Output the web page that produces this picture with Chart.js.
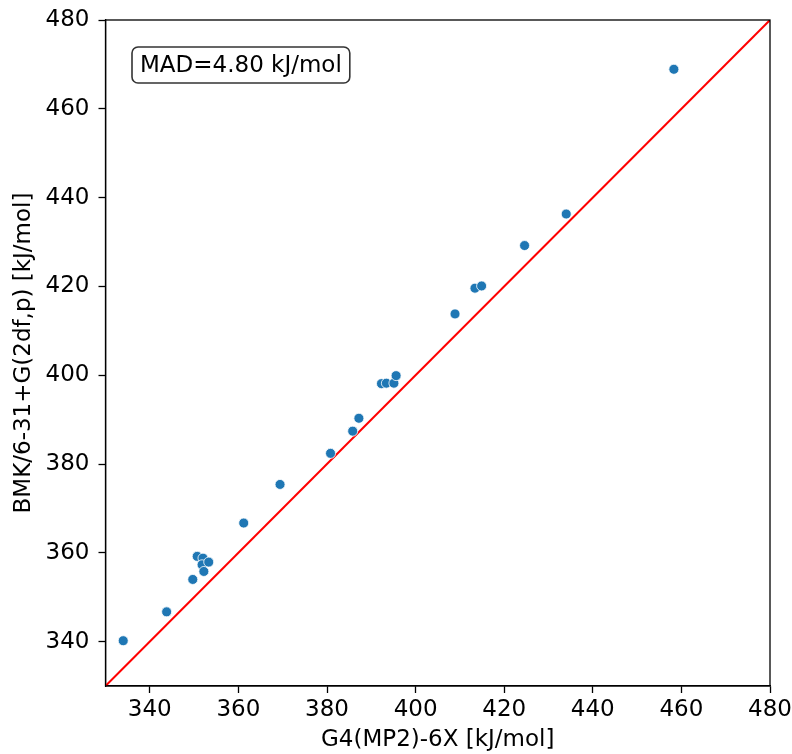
<!DOCTYPE html>
<html>
<head>
<meta charset="utf-8">
<script src="https://cdn.jsdelivr.net/npm/chart.js@4.4.0/dist/chart.umd.min.js"></script>
<style>
  html, body { margin: 0; padding: 0; background: #fff; }
  #wrap { width: 792px; height: 754px; }
</style>
</head>
<body>
<div id="wrap"><canvas id="parityChart" width="792" height="754"></canvas></div>
<script>
// G4(MP2)-6X reference values vs BMK/6-31+G(2df,p) values, kJ/mol
const refValues = [334.0, 343.8, 349.7, 350.7, 352.0, 351.8, 353.3, 352.2, 361.2, 369.4,
                   380.8, 385.8, 387.2, 392.3, 393.4, 395.1, 395.6, 408.9, 413.4, 414.9,
                   424.6, 434.0, 458.3];
const calcValues = [340.2, 346.7, 354.0, 359.2, 358.8, 357.3, 357.9, 355.8, 366.7, 375.4,
                    382.4, 387.4, 390.3, 398.1, 398.2, 398.2, 399.9, 413.8, 419.6, 420.1,
                    429.2, 436.3, 468.9];
const axisRange = [330, 480];
const tickValues = [340, 360, 380, 400, 420, 440, 460, 480];
const madLabel = 'MAD=4.80 kJ/mol';

const FONT = 'DejaVu Sans';
const FS = 23;
const points = refValues.map((x, i) => ({ x: x, y: calcValues[i] }));
const diagonal = axisRange.map(v => ({ x: v, y: v }));

const setTicks = scale => { scale.ticks = tickValues.map(v => ({ value: v })); };

const framePlugin = {
    id: 'frame',
    afterDraw(chart) {
        const { ctx, chartArea: a } = chart;
        ctx.save();
        ctx.strokeStyle = '#000';
        ctx.lineWidth = 1.3;
        ctx.strokeRect(a.left, a.top, a.right - a.left, a.bottom - a.top);

        // MAD text box
        ctx.font = FS + 'px "' + FONT + '"';
        const w = ctx.measureText(madLabel).width;
        const bx = 132, by = 47, bw = w + 16, bh = 36, r = 6;
        ctx.beginPath();
        ctx.roundRect(bx, by, bw, bh, r);
        ctx.fillStyle = '#fff';
        ctx.fill();
        ctx.lineWidth = 1.6;
        ctx.strokeStyle = '#333';
        ctx.stroke();
        ctx.fillStyle = '#000';
        ctx.textBaseline = 'middle';
        ctx.fillText(madLabel, bx + 8, by + bh / 2 + 1);
        ctx.restore();
    }
};

const ctx = document.getElementById('parityChart').getContext('2d');
new Chart(ctx, {
    type: 'scatter',
    data: {
        datasets: [{
            label: 'y = x',
            data: diagonal,
            showLine: true,
            borderColor: '#ff0000',
            borderWidth: 2,
            pointRadius: 0,
            order: 2
        }, {
            label: 'points',
            data: points,
            backgroundColor: '#1f77b4',
            borderColor: '#ffffff',
            borderWidth: 0.8,
            pointRadius: 5,
            order: 1
        }]
    },
    plugins: [framePlugin],
    options: {
        responsive: false,
        animation: false,
        layout: { padding: { left: 0, top: 20, right: 22, bottom: 0 } },
        plugins: {
            legend: { display: false },
            tooltip: { enabled: false }
        },
        scales: {
            x: {
                type: 'linear',
                min: axisRange[0],
                max: axisRange[1],
                afterBuildTicks: setTicks,
                afterFit: s => { s.height = 68; s.paddingLeft = 0; s.paddingRight = 0; },
                grid: { drawOnChartArea: false, color: '#000', tickLength: 7, tickWidth: 1.3 },
                border: { color: '#000', width: 1.3 },
                ticks: { color: '#000', font: { family: FONT, size: FS }, padding: 3, maxRotation: 0 },
                title: {
                    display: true,
                    text: 'G4(MP2)-6X [kJ/mol]',
                    color: '#000',
                    font: { family: FONT, size: FS },
                    padding: { top: 0, bottom: 0 }
                }
            },
            y: {
                type: 'linear',
                min: axisRange[0],
                max: axisRange[1],
                afterBuildTicks: setTicks,
                afterFit: s => { s.width = 105.5; s.paddingTop = 0; s.paddingBottom = 0; },
                grid: { drawOnChartArea: false, color: '#000', tickLength: 7, tickWidth: 1.3 },
                border: { color: '#000', width: 1.3 },
                ticks: { color: '#000', font: { family: FONT, size: FS }, padding: 9 },
                title: {
                    display: true,
                    text: 'BMK/6-31+G(2df,p) [kJ/mol]',
                    color: '#000',
                    font: { family: FONT, size: FS },
                    padding: { top: 10, bottom: 0 }
                }
            }
        }
    }
});
</script>
</body>
</html>
